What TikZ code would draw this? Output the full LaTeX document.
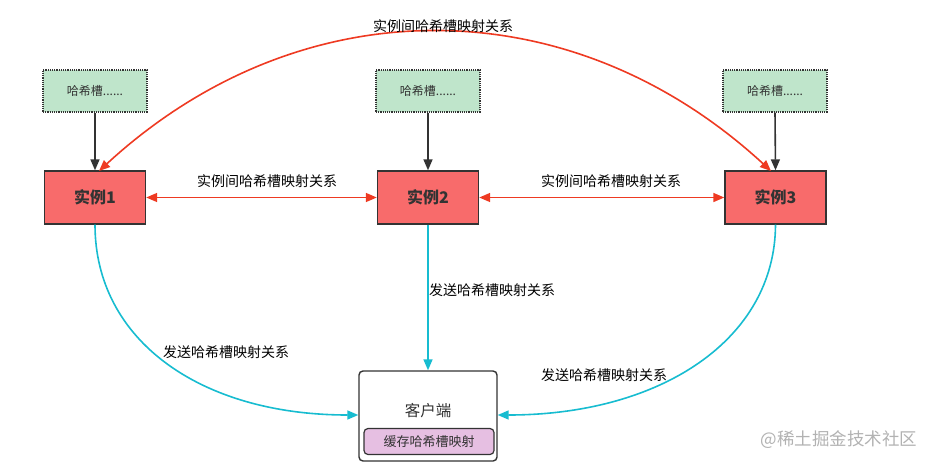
\documentclass[tikz,border=0pt]{standalone}
\usepackage{fontspec}
\setmainfont{Noto Sans CJK SC}
\usetikzlibrary{arrows.meta}
\definecolor{slotfill}{HTML}{BFE5CB}
\definecolor{instfill}{HTML}{F86B6B}
\definecolor{redline}{HTML}{EE3A22}
\definecolor{cyanline}{HTML}{17BCD0}
\definecolor{cachefill}{HTML}{E6BFE2}
\definecolor{darkline}{HTML}{333333}
\begin{document}
\begin{tikzpicture}[x=1pt,y=-1pt,
  slotbox/.style={draw=darkline,densely dotted,line width=1.2pt,fill=slotfill,minimum width=104pt,minimum height=42pt,inner sep=0pt,font=\fontsize{12}{14}\selectfont,text=darkline},
  instbox/.style={draw=darkline,line width=1.4pt,fill=instfill,minimum width=101pt,minimum height=53pt,inner sep=0pt,font=\bfseries\fontsize{16}{18}\selectfont,text=darkline},
  lbl/.style={font=\fontsize{14}{16}\selectfont,text=black,inner sep=1pt},
  blk/.style={draw=darkline,line width=1.6pt,-{Triangle[length=11pt,width=9pt]}},
  redarr/.style={draw=redline,line width=1.6pt,{Triangle[length=11pt,width=9pt]}-{Triangle[length=11pt,width=9pt]}},
  cyarr/.style={draw=cyanline,line width=1.6pt,-{Triangle[length=11pt,width=9pt]}}
]
\useasboundingbox (0,0) rectangle (936,466);
\node[slotbox] (s1) at (95,91) {哈希槽......};
\node[slotbox] (s2) at (428,91) {哈希槽......};
\node[slotbox] (s3) at (775,91) {哈希槽......};
\node[instbox] (i1) at (95,197.5) {实例1};
\node[instbox] (i2) at (428,197.5) {实例2};
\node[instbox] (i3) at (775.5,197.5) {实例3};
\node[draw=darkline,line width=1.4pt,rounded corners=4pt,fill=white,minimum width=138pt,minimum height=90pt] (c) at (428,416) {};
\node[font=\fontsize{15.5}{17}\selectfont,text=darkline] (ct) at (428,411) {客户端};
\node[draw=darkline,line width=1.2pt,rounded corners=4pt,fill=cachefill,minimum width=130pt,minimum height=26pt,inner sep=0pt,font=\fontsize{13}{15}\selectfont,text=darkline] (cache) at (429,441.5) {缓存哈希槽映射};
\draw[blk] (s1.south) -- (i1.north);
\draw[blk] (s2.south) -- (i2.north);
\draw[blk] (s3.south) -- (i3.north);
\draw[redarr] (i1.east) -- (i2.west);
\draw[redarr] (i2.east) -- (i3.west);
\coordinate (t1) at (99,171);
\coordinate (t3) at (771,171);
\draw[redarr] (t1) .. controls (300,-14) and (570,-14) .. (t3);
\node[lbl] (l0) at (443,26) {实例间哈希槽映射关系};
\node[lbl] (l1) at (267,181) {实例间哈希槽映射关系};
\node[lbl] (l2) at (611,181) {实例间哈希槽映射关系};
\draw[cyarr] (i1.south) .. controls (95,340) and (200,415) .. (c.west |- 0,415);
\draw[cyarr] (i2.south) -- (c.north);
\draw[cyarr] (i3.south) .. controls (775,340) and (660,415) .. (c.east |- 0,415);
\node[lbl] (l3) at (226,352) {发送哈希槽映射关系};
\node[lbl] (l4) at (492,290) {发送哈希槽映射关系};
\node[lbl] (l5) at (604,375) {发送哈希槽映射关系};
\node[font=\fontsize{17.5}{20}\selectfont,text=black!30] (wm) at (839,440) {@稀土掘金技术社区};
\end{tikzpicture}
\end{document}
